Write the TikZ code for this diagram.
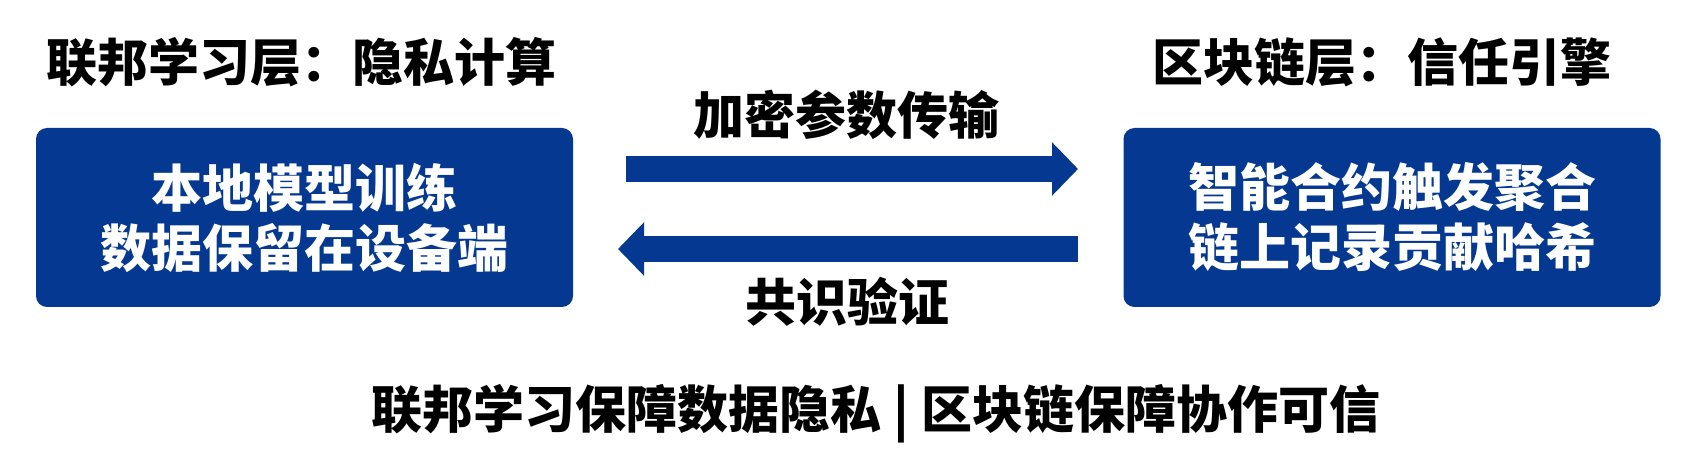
\documentclass[tikz,border=0pt]{standalone}
\usepackage{fontspec}
\newfontfamily\cjk{Noto Sans CJK SC}
\usetikzlibrary{arrows.meta}
\definecolor{deepblue}{RGB}{4,56,145}
\tikzset{
  layerbox/.style={fill=deepblue, rounded corners=5.5pt, minimum width=268.5pt, minimum height=89.5pt, inner sep=0pt},
  boxtext/.style={text=white, align=center, font=\cjk\bfseries\fontsize{25.5}{30}\selectfont},
  titletext/.style={text=black, font=\cjk\bfseries\fontsize{25.5}{30}\selectfont, inner sep=0pt},
  flow/.style={draw=deepblue, line width=13pt, -{Triangle[width=26pt,length=13pt]}},
}
\begin{document}
\begin{tikzpicture}[x=0.5pt,y=-0.5pt]
\useasboundingbox (0,0) rectangle (1706,464);
% titles
\node[titletext] (tl) at (301,62) {联邦学习层：隐私计算};
\node[titletext] (tr) at (1382,62) {区块链层：信任引擎};
% boxes
\node[layerbox] (L) at (304.5,217.5) {};
\node[boxtext] (Lt) at (L.center) {本地模型训练\\数据保留在设备端};
\node[layerbox] (R) at (1392,217.5) {};
\node[boxtext] (Rt) at (R.center) {智能合约触发聚合\\链上记录贡献哈希};
% arrows
\coordinate (a1s) at (626,169);
\coordinate (a1e) at (1078,169);
\coordinate (a2s) at (1078,249);
\coordinate (a2e) at (618,249);
\draw[flow] (a1s) -- (a1e);
\draw[flow] (a2s) -- (a2e);
\node[titletext] (lab1) at (846,115) {加密参数传输};
\node[titletext] (lab2) at (847,302) {共识验证};
% bottom line
\node[titletext] (foot) at (876,414) {联邦学习保障数据隐私 | 区块链保障协作可信};
\end{tikzpicture}
\end{document}
